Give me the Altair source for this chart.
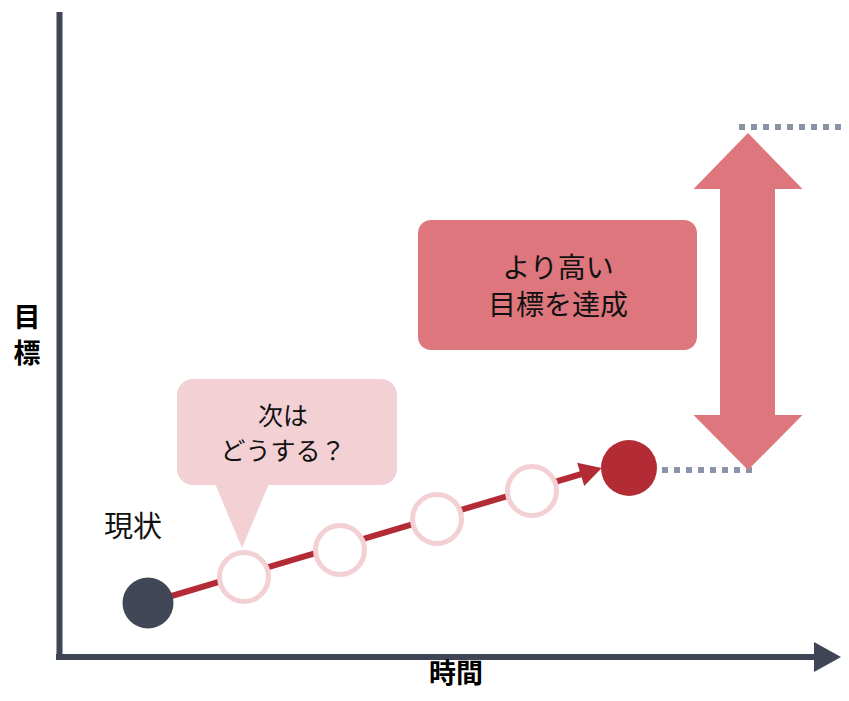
import altair as alt
import pandas as pd

# ---- data (diagram units: time from the origin, goal level from the origin) ----
step_time = [87, 183, 279, 376, 471, 568]
step_goal = [54, 80, 107, 138, 166, 189]
step_role = ["current", "next", "next", "next", "next", "target"]

current_goal = 187      # level reached now (lower dotted line)
higher_goal = 530       # higher target (upper dotted line)

axis_x_title = "時間"
axis_y_title = "目標"
label_now = "現状"
label_next = "次は\nどうする？"
label_goal = "より高い\n目標を達成"

# colours
AXIS = "#404555"
DOT = "#8a93a7"
DARK = "#414756"
RED = "#b22b35"
ROSE = "#de767d"
PINK = "#f3d0d4"
TEXT = "#111111"
FONT = "Noto Sans CJK JP"

xs = alt.Scale(domain=[-53, 780], nice=False, zero=False)
ys = alt.Scale(domain=[-36, 649], nice=False, zero=False)


def X(f="t"):
    return alt.X(f"{f}:Q", scale=xs, axis=None)


def Y(f="g"):
    return alt.Y(f"{f}:Q", scale=ys, axis=None)


steps = pd.DataFrame({"t": step_time, "g": step_goal, "role": step_role})

# axes
axes_df = pd.DataFrame({"t": [-1.5, -5], "t2": [-1.5, 758], "g": [-3, 0], "g2": [645, 0]})
axes = alt.Chart(axes_df).mark_rule(color=AXIS, strokeWidth=6, strokeCap="butt").encode(
    x=X(), x2="t2:Q", y=Y(), y2="g2:Q")
x_head = alt.Chart(pd.DataFrame({"t": [766.5], "g": [0]})).mark_point(
    shape="M 0.9 0 L -0.9 -1 L -0.9 1 Z", size=900, filled=True, opacity=1,
    color=AXIS, strokeWidth=0).encode(x=X(), y=Y())

# dotted goal lines
dots_df = pd.DataFrame({"t": [601, 678], "t2": [692, 790], "g": [current_goal, higher_goal]})
dots = alt.Chart(dots_df).mark_rule(color=DOT, strokeWidth=6, strokeDash=[6, 6],
                                    strokeCap="butt").encode(x=X(), x2="t2:Q", y=Y(), y2="g:Q")

# double arrow (goal raise)
shaft = alt.Chart(pd.DataFrame({"t": [659], "t2": [714], "g": [472], "g2": [238]})).mark_rect(
    color=ROSE).encode(x=X(), x2="t2:Q", y=Y(), y2="g2:Q")
head_up = alt.Chart(pd.DataFrame({"t": [687], "g": [496]})).mark_point(
    shape="M 0 -0.514 L 1 0.514 L -1 0.514 Z", size=11881, filled=True, opacity=1,
    color=ROSE, strokeWidth=0).encode(x=X(), y=Y())
head_down = alt.Chart(pd.DataFrame({"t": [687], "g": [214.5]})).mark_point(
    shape="M 0 0.505 L 1 -0.505 L -1 -0.505 Z", size=11881, filled=True, opacity=1,
    color=ROSE, strokeWidth=0).encode(x=X(), y=Y())

# goal box (text anchored at its first line)
goal_box = alt.Chart(pd.DataFrame({"t": [357], "t2": [636], "g": [437], "g2": [307]})).mark_rect(
    color=ROSE, cornerRadius=13).encode(x=X(), x2="t2:Q", y=Y(), y2="g2:Q")
goal_text = alt.Chart(pd.DataFrame({"t": [497], "g": [387], "s": [label_goal]})).mark_text(
    font=FONT, fontSize=28, color=TEXT, lineBreak="\n", lineHeight=37,
    align="center", baseline="middle").encode(x=X(), y=Y(), text="s:N")

# callout
call_box = alt.Chart(pd.DataFrame({"t": [116], "t2": [336], "g": [278], "g2": [172]})).mark_rect(
    color=PINK, cornerRadius=16).encode(x=X(), x2="t2:Q", y=Y(), y2="g2:Q")
call_tail = alt.Chart(pd.DataFrame({"t": [181], "g": [143]})).mark_point(
    shape="M -0.838 -1 L 0.838 -1 L 0 1 Z", size=4624, filled=True, opacity=1,
    color=PINK, strokeWidth=0).encode(x=X(), y=Y())
call_text = alt.Chart(pd.DataFrame({"t": [222], "g": [240], "s": [label_next]})).mark_text(
    font=FONT, fontSize=25, color=TEXT, lineBreak="\n", lineHeight=35,
    align="center", baseline="middle").encode(x=X(), y=Y(), text="s:N")

# progress line
line_df = pd.DataFrame({"t": [step_time[0], 524], "g": [step_goal[0], 184], "o": [0, 1]})
path = alt.Chart(line_df).mark_line(color=RED, strokeWidth=6, strokeCap="butt").encode(
    x=X(), y=Y(), order="o:Q")
arrow = alt.Chart(pd.DataFrame({"t": [530.2], "g": [185.8]})).mark_point(
    shape="M 1 0 L -1 -1.1 L -1 1.1 Z", size=484, filled=True, opacity=1, angle=343,
    color=RED, strokeWidth=0).encode(x=X(), y=Y())

hollow = alt.Chart(steps[steps.role == "next"]).mark_point(
    shape="circle", size=2401, filled=False, fill="white", fillOpacity=1, opacity=1,
    stroke=PINK, strokeWidth=5).encode(x=X(), y=Y())
now_pt = alt.Chart(steps[steps.role == "current"]).mark_point(
    shape="circle", size=2601, filled=True, opacity=1, color=DARK, strokeWidth=0).encode(x=X(), y=Y())
goal_pt = alt.Chart(steps[steps.role == "target"]).mark_point(
    shape="circle", size=3136, filled=True, opacity=1, color=RED, strokeWidth=0).encode(x=X(), y=Y())

now_text = alt.Chart(pd.DataFrame({"t": [72], "g": [129], "s": [label_now]})).mark_text(
    font=FONT, fontSize=29, color=TEXT, align="center", baseline="middle").encode(
    x=X(), y=Y(), text="s:N")

# axis titles: the vertical one is stacked character by character
titles_df = pd.DataFrame({"t": [-34, -34, 395], "g": [338.5, 302.5, -18],
                          "s": [axis_y_title[0], axis_y_title[1], axis_x_title]})
titles = alt.Chart(titles_df).mark_text(
    font=FONT, fontSize=27, fontWeight="bold", color="#000000",
    align="center", baseline="middle").encode(x=X(), y=Y(), text="s:N")

chart = alt.layer(
    axes, x_head, dots, shaft, head_up, head_down, goal_box, goal_text,
    call_box, call_tail, call_text, path, hollow, now_pt, goal_pt, arrow, now_text, titles
).properties(
    width=833, height=685, background="white",
    autosize=alt.AutoSizeParams(type="none"), padding=0
).configure_view(stroke=None)

chart.save("out.html", embed_options={"renderer": "svg", "actions": False})
